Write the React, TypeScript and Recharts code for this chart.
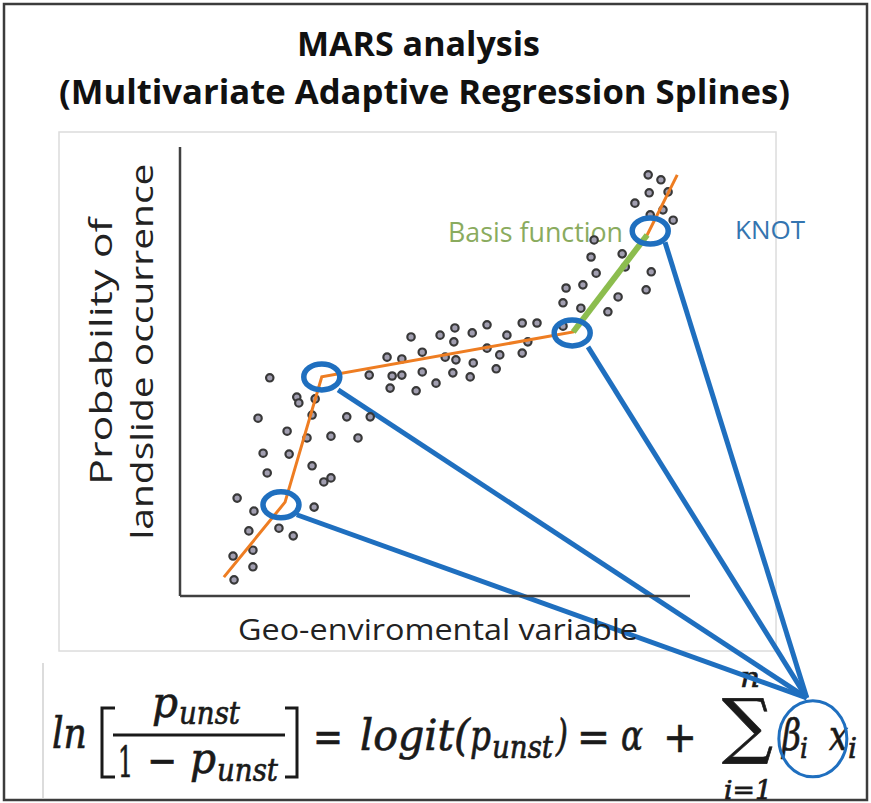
import { ComposedChart, Scatter, XAxis, YAxis, ReferenceLine, ReferenceDot } from 'recharts';

// observed points (x: geo-environmental variable, y: probability, both 0-100)
const obsX = [
  91.8, 94.3, 95.7, 92.0, 89.2, 94.7, 96.7, 92.2, 81.2, 80.6, 86.7, 87.3, 81.6, 92.4, 75.7, 79.0,
  91.4, 85.9, 75.1, 78.6, 83.9, 75.1, 67.1, 70.0, 64.1, 68.2, 60.2, 57.3, 53.9, 51.0, 53.7, 45.3,
  60.2, 62.7, 67.1, 52.0, 54.1, 57.5, 47.5, 40.6, 43.5, 37.1, 41.6, 43.5, 47.5, 53.5, 56.9, 62.0,
  50.2, 41.2, 46.3, 17.6, 22.9, 23.3, 26.5, 25.9, 15.3, 32.7, 37.3, 21.0, 24.9, 29.6, 34.9, 16.3,
  21.4, 17.1, 25.9, 28.2, 29.6, 11.2, 14.5, 26.3, 13.5, 19.4, 22.2, 10.4, 14.3, 14.3, 10.6,
];
const obsY = [
  93.8, 92.7, 90.0, 89.8, 87.5, 86.0, 83.7, 84.9, 79.3, 75.5, 76.2, 73.3, 71.9, 72.2, 68.6, 69.3,
  68.2, 66.6, 65.3, 64.1, 63.3, 60.1, 60.8, 60.8, 58.1, 56.6, 60.4, 58.6, 59.7, 58.1, 56.6, 57.7,
  55.2, 53.7, 54.1, 53.2, 52.6, 51.9, 54.3, 53.2, 52.8, 49.2, 49.0, 49.2, 49.9, 49.7, 48.8, 50.6,
  47.4, 46.3, 45.7, 48.6, 44.3, 43.0, 43.9, 40.3, 39.6, 39.9, 39.9, 36.7, 35.2, 35.6, 35.2, 31.8,
  31.6, 27.4, 29.0, 25.4, 26.3, 21.8, 18.9, 19.8, 14.5, 15.1, 13.4, 8.9, 10.2, 6.5, 3.6,
];

// piecewise MARS fit
const splineX = [8.6, 20.6, 27.8, 77.1, 91.6, 97.5];
const splineY = [4.2, 20.9, 48.8, 58.8, 80.4, 93.8];

// highlighted basis function segment
const basisX = [77.1, 91.6];
const basisY = [58.8, 80.4];

// knots and where their links leave the ring
const knotX = [19.8, 27.8, 76.9, 92.2];
const knotY = [20.3, 48.8, 58.6, 81.3];
const linkX = [22.9, 31.0, 80.0, 95.1];
const linkY = [18.1, 45.9, 55.5, 78.8];

// point on the beta_i ring in the formula
const hubX = 122.9;
const hubY = -22.7;
const ringX = 123.5;
const ringY = -31.8;

const zip = (xs: number[], ys: number[]) => xs.map((x, i) => ({ x, y: ys[i] }));
const obs = zip(obsX, obsY);
const spline = zip(splineX, splineY);
const basis = zip(basisX, basisY);
const knots = zip(knotX, knotY);

const BLUE = '#1f6fbf';
const SANS = '"Open Sans", "DejaVu Sans", sans-serif';
const SERIF = '"DejaVu Serif", "Liberation Serif", serif';

const Dot = (p: any) => (
  <circle cx={p.cx} cy={p.cy} r={3.7} fill="#a19eb0" stroke="#383838" strokeWidth={2.2} />
);
const Nothing = () => <g />;
const Knot = (p: any) => (
  <ellipse cx={p.cx} cy={p.cy} rx={18} ry={13} fill="none" stroke={BLUE} strokeWidth={5.5} />
);
const Ring = (p: any) => (
  <ellipse cx={p.cx + 3} cy={p.cy} rx={34} ry={38} fill="none" stroke={BLUE} strokeWidth={3} />
);

const YLabel = (props: any) => {
  const vb = props.viewBox;
  const cy = vb.y + vb.height / 2 - 20;
  const x1 = vb.x - 67;
  const x2 = vb.x - 26;
  return (
    <g fontFamily={SANS} fontSize={31} fill="#222">
      <text x={x1} y={cy} textAnchor="middle" transform={`rotate(-90 ${x1} ${cy})`} textLength={267} lengthAdjust="spacingAndGlyphs">
        Probability of
      </text>
      <text x={x2} y={cy} textAnchor="middle" transform={`rotate(-90 ${x2} ${cy})`} textLength={376} lengthAdjust="spacingAndGlyphs">
        landslide occurrence
      </text>
    </g>
  );
};

const XLabel = (props: any) => {
  const vb = props.viewBox;
  return (
    <text x={vb.x + vb.width / 2 + 3} y={vb.y + 44} textAnchor="middle" fontFamily={SANS} fontSize={29} fill="#222" textLength={400} lengthAdjust="spacingAndGlyphs">
      Geo-enviromental variable
    </text>
  );
};

function Backdrop() {
  const t = { fontFamily: SERIF, fontStyle: 'italic', fill: '#1a1a1a', stroke: '#1a1a1a', strokeWidth: 0.7 } as const;
  return (
    <svg width={871} height={803} style={{ position: 'absolute', left: 0, top: 0 }}>
      <rect x={0} y={0} width={871} height={803} fill="#fff" />
      <rect x={4} y={4} width={863} height={796} fill="none" stroke="#3c3c3c" strokeWidth={2.5} />
      <rect x={59} y={132} width={717} height={519} fill="none" stroke="#dcdcdc" strokeWidth={1.5} />
      <line x1={43} y1={663} x2={43} y2={799} stroke="#d0d0d0" strokeWidth={1.5} />

      <g fontFamily={SANS} fontWeight={700} fontSize={34} fill="#111">
        <text x={297} y={56} textLength={243} lengthAdjust="spacingAndGlyphs">MARS analysis</text>
        <text x={59} y={104} textLength={731} lengthAdjust="spacingAndGlyphs">(Multivariate Adaptive Regression Splines)</text>
      </g>

      <text x={448} y={242} fontFamily={SANS} fontSize={27} fill="#8aab5e" textLength={175} lengthAdjust="spacingAndGlyphs">Basis function</text>
      <text x={735} y={239} fontFamily={SANS} fontSize={26} fill="#3475b0" textLength={70} lengthAdjust="spacingAndGlyphs">KNOT</text>

      {/* logit formula */}
      <g {...t}>
        <text x={52} y={748} fontSize={42} textLength={35} lengthAdjust="spacingAndGlyphs">ln</text>
        <path d="M115 708 H102 V777 H115" fill="none" strokeWidth={3} />
        <text x={152} y={717} fontSize={42} textLength={26} lengthAdjust="spacingAndGlyphs">p</text>
        <text x={179} y={724} fontSize={32} textLength={61} lengthAdjust="spacingAndGlyphs">unst</text>
        <line x1={113} y1={735} x2={285} y2={735} strokeWidth={3} />
        <text x={118} y={777} fontSize={42} fontStyle="normal" textLength={15} lengthAdjust="spacingAndGlyphs">1</text>
        <text x={147} y={775} fontSize={42} fontStyle="normal" textLength={30} lengthAdjust="spacingAndGlyphs">−</text>
        <text x={190} y={773} fontSize={42} textLength={26} lengthAdjust="spacingAndGlyphs">p</text>
        <text x={217} y={781} fontSize={32} textLength={61} lengthAdjust="spacingAndGlyphs">unst</text>
        <path d="M285 708 H297 V777 H285" fill="none" strokeWidth={3} />
        <text x={313} y={752} fontSize={42} fontStyle="normal" textLength={30} lengthAdjust="spacingAndGlyphs">=</text>
        <text x={360} y={750} fontSize={42} textLength={110} lengthAdjust="spacingAndGlyphs">logit(</text>
        <text x={470} y={750} fontSize={42} textLength={21} lengthAdjust="spacingAndGlyphs">p</text>
        <text x={492} y={758} fontSize={32} textLength={61} lengthAdjust="spacingAndGlyphs">unst</text>
        <text x={556} y={750} fontSize={42} textLength={12} lengthAdjust="spacingAndGlyphs">)</text>
        <text x={577} y={752} fontSize={42} fontStyle="normal" textLength={33} lengthAdjust="spacingAndGlyphs">=</text>
        <text x={621} y={750} fontSize={42} textLength={22} lengthAdjust="spacingAndGlyphs">α</text>
        <text x={663} y={752} fontSize={42} fontStyle="normal" textLength={34} lengthAdjust="spacingAndGlyphs">+</text>
        <text x={722} y={750} fontSize={72} fontStyle="normal" textLength={51} lengthAdjust="spacingAndGlyphs">∑</text>
        <text x={740} y={687} fontSize={28} textLength={20} lengthAdjust="spacingAndGlyphs">n</text>
        <text x={724} y={799} fontSize={26} textLength={48} lengthAdjust="spacingAndGlyphs">i=1</text>
        <text x={782} y={750} fontSize={42} textLength={19} lengthAdjust="spacingAndGlyphs">β</text>
        <text x={800} y={758} fontSize={28} textLength={8} lengthAdjust="spacingAndGlyphs">i</text>
        <text x={829} y={750} fontSize={42} textLength={19} lengthAdjust="spacingAndGlyphs">x</text>
        <text x={848} y={758} fontSize={28} textLength={9} lengthAdjust="spacingAndGlyphs">i</text>
      </g>
    </svg>
  );
}

export default function App() {
  return (
    <div style={{ position: 'absolute', left: 0, top: 0, width: 871, height: 803 }}>
      <Backdrop />
      <div style={{ position: 'absolute', left: 0, top: 0 }}>
        <ComposedChart width={871} height={803} margin={{ top: 147, right: 181, bottom: 206, left: 179 }}>
          <XAxis
            type="number"
            dataKey="x"
            domain={[0, 100]}
            height={1}
            tick={false}
            tickLine={false}
            axisLine={{ stroke: '#404040', strokeWidth: 2.5 }}
            label={XLabel}
          />
          <YAxis
            type="number"
            dataKey="y"
            domain={[0, 100]}
            width={1}
            tick={false}
            tickLine={false}
            axisLine={{ stroke: '#404040', strokeWidth: 2.5 }}
            label={YLabel}
          />
          <Scatter data={obs} shape={Dot} isAnimationActive={false} />
          <Scatter data={spline} shape={Nothing} line={{ stroke: '#ee7d22', strokeWidth: 3 }} isAnimationActive={false} />
          <Scatter data={basis} shape={Nothing} line={{ stroke: '#8cbd4e', strokeWidth: 6 }} isAnimationActive={false} />
          {linkX.map((x, i) => (
            <ReferenceLine
              key={i}
              segment={[{ x, y: linkY[i] }, { x: hubX, y: hubY }]}
              stroke={BLUE}
              strokeWidth={5}
              ifOverflow="visible"
            />
          ))}
          <Scatter data={knots} shape={Knot} isAnimationActive={false} />
          <ReferenceDot x={ringX} y={ringY} shape={Ring} ifOverflow="visible" />
        </ComposedChart>
      </div>
    </div>
  );
}
